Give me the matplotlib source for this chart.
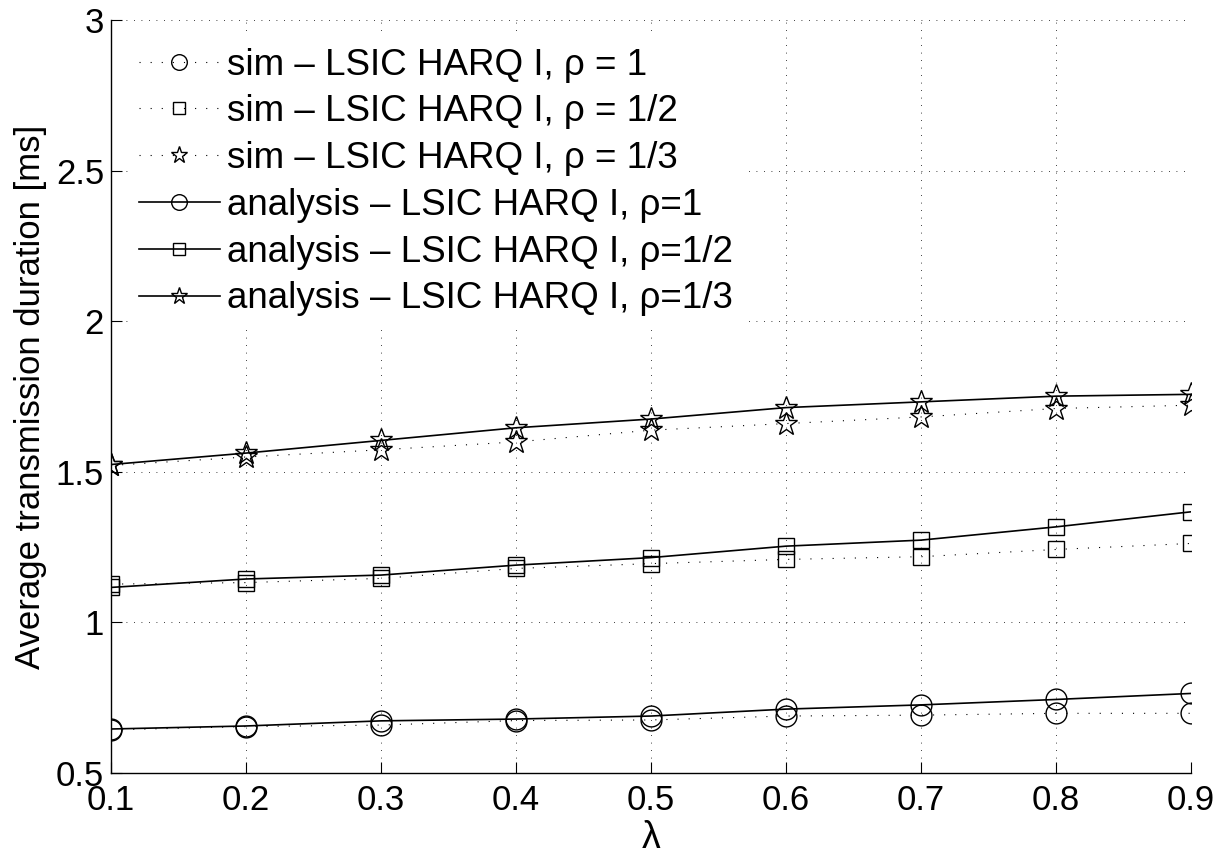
import matplotlib
matplotlib.use("Agg")
import matplotlib.pyplot as plt

plt.rcParams['font.family'] = ['Liberation Sans', 'DejaVu Sans']

lam = [0.1, 0.2, 0.3, 0.4, 0.5, 0.6, 0.7, 0.8, 0.9]

# simulated average transmission duration [ms]
sim_rho1 = [0.643, 0.654, 0.659, 0.674, 0.676, 0.689, 0.692, 0.698, 0.698]
sim_rho2 = [1.127, 1.132, 1.146, 1.179, 1.195, 1.209, 1.218, 1.242, 1.262]
sim_rho3 = [1.521, 1.549, 1.573, 1.599, 1.638, 1.660, 1.682, 1.710, 1.721]

# analytical average transmission duration [ms]
ana_rho1 = [0.646, 0.656, 0.673, 0.679, 0.689, 0.712, 0.726, 0.744, 0.764]
ana_rho2 = [1.116, 1.144, 1.157, 1.190, 1.215, 1.253, 1.273, 1.317, 1.367]
ana_rho3 = [1.524, 1.562, 1.604, 1.646, 1.675, 1.713, 1.732, 1.751, 1.757]

labels = [
    'sim \u2013 LSIC HARQ I, \u03c1 = 1',
    'sim \u2013 LSIC HARQ I, \u03c1 = 1/2',
    'sim \u2013 LSIC HARQ I, \u03c1 = 1/3',
    'analysis \u2013 LSIC HARQ I, \u03c1=1',
    'analysis \u2013 LSIC HARQ I, \u03c1=1/2',
    'analysis \u2013 LSIC HARQ I, \u03c1=1/3',
]

fig = plt.figure(figsize=(12.29, 8.56), dpi=100)
ax = fig.add_axes([0.0903, 0.097, 0.8787, 0.8797])

dot = dict(color='k', lw=0.8, dashes=(1, 9), mfc='none', mec='k', mew=1.0)
solid = dict(color='k', lw=1.2, ls='-', mfc='none', mec='k', mew=1.0)

ax.plot(lam, sim_rho1, marker='o', ms=15, label=labels[0], **dot)
ax.plot(lam, sim_rho2, marker='s', ms=11, label=labels[1], **dot)
ax.plot(lam, sim_rho3, marker='*', ms=17, label=labels[2], **dot)
ax.plot(lam, ana_rho1, marker='o', ms=15, label=labels[3], **solid)
ax.plot(lam, ana_rho2, marker='s', ms=11, label=labels[4], **solid)
ax.plot(lam, ana_rho3, marker='*', ms=17, label=labels[5], **solid)

ax.set_xlim(0.1, 0.9)
ax.set_ylim(0.5, 3)
ax.set_xticks(lam)
ax.set_xticklabels([f'{v:g}' for v in lam])
ax.set_yticks([0.5, 1, 1.5, 2, 2.5, 3])
ax.set_yticklabels(['0.5', '1', '1.5', '2', '2.5', '3'])
ax.tick_params(direction='in', length=8, width=0.8, labelsize=25)
ax.tick_params(axis='x', pad=8)
ax.tick_params(axis='y', pad=5)

ax.grid(True, color='k', lw=0.6, dashes=(1, 8))
ax.spines['top'].set_visible(False)
ax.spines['right'].set_visible(False)
for s in ('left', 'bottom'):
    ax.spines[s].set_linewidth(1.0)

ax.set_xlabel('\u03bb', fontsize=27, labelpad=2)
ax.set_ylabel('Average transmission duration [ms]', fontsize=25, labelpad=6)

leg = ax.legend(loc='upper left', fontsize=26.5, frameon=True, fancybox=False,
                edgecolor='none', facecolor='white', framealpha=1,
                handlelength=2.2, handletextpad=0.2, labelspacing=0.32,
                borderaxespad=0.45, borderpad=0.3, markerscale=0.75)

fig.savefig('out.png', dpi=100)
